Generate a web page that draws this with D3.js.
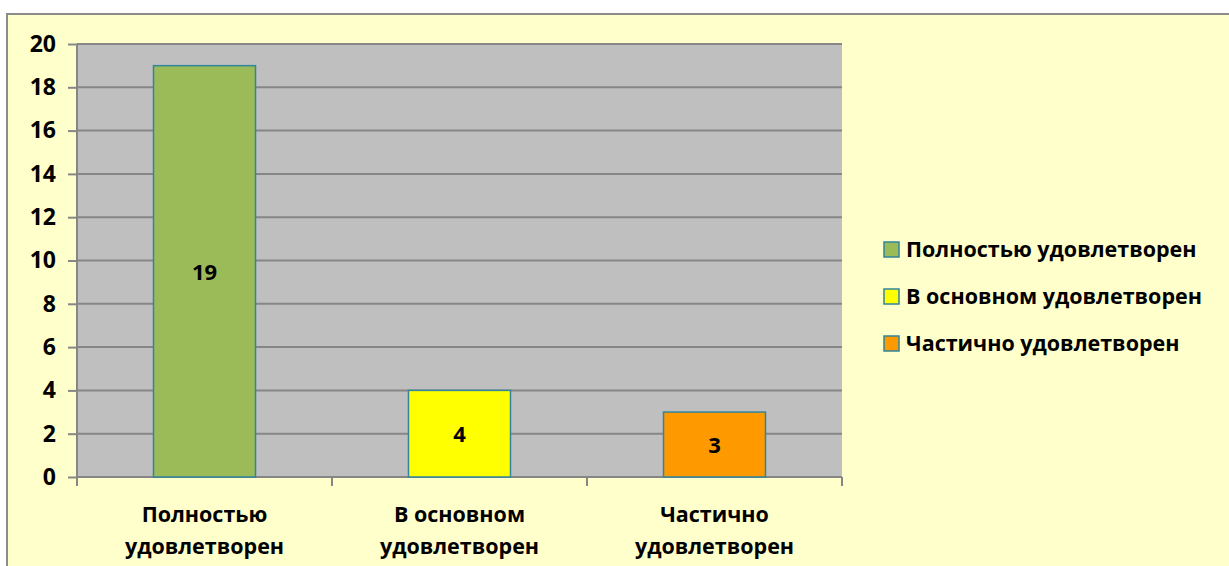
<!DOCTYPE html>
<meta charset="utf-8">
<style>
body { margin: 0; background: #fff; }
svg text { font-family: "Open Sans", "Noto Sans", sans-serif; font-weight: bold; fill: #000; }
.axis path { display: none; }
.axis line { stroke: #868686; stroke-width: 2; }
.axis text { font-size: 21.5px; font-family: "Open Sans", "Noto Sans", sans-serif; }
.axis.y text { font-size: 23px; }
.grid line { stroke: #868686; stroke-width: 2; }
.legend text { font-size: 21.5px; }
</style>
<svg width="1229" height="566"></svg>
<script src="https://d3js.org/d3.v7.min.js"></script>
<script>

var categories = ["Полностью удовлетворен", "В основном удовлетворен", "Частично удовлетворен"],
    axisLines = [["Полностью", "удовлетворен"], ["В основном", "удовлетворен"], ["Частично", "удовлетворен"]],
    values = [19, 4, 3],
    colors = ["#9BBB59", "#FFFF00", "#FF9900"],
    yTicks = [0, 2, 4, 6, 8, 10, 12, 14, 16, 18, 20];

var svg = d3.select("svg"),
    margin = {top: 44, left: 77},
    width = 842 - margin.left,
    height = 477 - margin.top;

// outer frame
svg.append("rect")
    .attr("x", 7).attr("y", 14)
    .attr("width", 1240).attr("height", 570)
    .attr("fill", "#FFFFCC")
    .attr("stroke", "#8C8C8C")
    .attr("stroke-width", 2);

var x = d3.scaleBand()
    .domain(categories)
    .range([0, width])
    .paddingInner(0.6)
    .paddingOuter(0.3);

var y = d3.scaleLinear()
    .domain([0, 20])
    .range([height, 0]);

var g = svg.append("g")
    .attr("transform", "translate(" + margin.left + "," + margin.top + ")");

g.append("rect")
    .attr("width", width)
    .attr("height", height)
    .attr("fill", "#BFBFBF");

g.append("g")
    .attr("class", "grid")
  .selectAll("line")
  .data(yTicks.slice(1))
  .enter().append("line")
    .attr("x1", 0).attr("x2", width)
    .attr("y1", function(d) { return y(d); })
    .attr("y2", function(d) { return y(d); });

g.append("line")
    .attr("x1", 0).attr("x2", 0)
    .attr("y1", 0).attr("y2", height)
    .attr("stroke", "#868686").attr("stroke-width", 2);

g.append("g")
    .attr("class", "axis y")
    .call(d3.axisLeft(y).tickValues(yTicks).tickSize(9).tickPadding(12));

// category axis: ticks at band boundaries
var xAxis = g.append("g")
    .attr("class", "axis")
    .attr("transform", "translate(0," + height + ")");

xAxis.append("line")
    .attr("x1", 0).attr("x2", width)
    .attr("stroke", "#868686").attr("stroke-width", 2);

xAxis.selectAll(".tk")
    .data(d3.range(categories.length + 1))
  .enter().append("line")
    .attr("x1", function(d) { return d * x.step(); })
    .attr("x2", function(d) { return d * x.step(); })
    .attr("y1", 0).attr("y2", 9);

var lab = xAxis.selectAll(".lab")
    .data(categories)
  .enter().append("text")
    .attr("text-anchor", "middle")
    .attr("x", function(d) { return x(d) + x.bandwidth() / 2; });

lab.selectAll("tspan")
    .data(function(d, i) { return axisLines[i]; })
  .enter().append("tspan")
    .attr("x", function() { return this.parentNode.getAttribute("x"); })
    .attr("y", function(d, i) { return 45 + i * 32; })
    .text(function(d) { return d; });

g.selectAll(".bar")
    .data(categories)
  .enter().append("rect")
    .attr("x", function(d) { return x(d); })
    .attr("y", function(d, i) { return y(values[i]); })
    .attr("width", x.bandwidth())
    .attr("height", function(d, i) { return height - y(values[i]); })
    .attr("fill", function(d, i) { return colors[i]; })
    .attr("stroke", "#31859C")
    .attr("stroke-width", 1.5);

g.selectAll(".val")
    .data(categories)
  .enter().append("text")
    .attr("text-anchor", "middle")
    .attr("font-size", 22)
    .attr("dy", "0.35em")
    .attr("x", function(d) { return x(d) + x.bandwidth() / 2; })
    .attr("y", function(d, i) { return (y(values[i]) + height) / 2 + 1; })
    .text(function(d, i) { return values[i]; });

var legend = svg.append("g")
    .attr("class", "legend")
    .attr("transform", "translate(884,249)")
  .selectAll("g")
    .data(categories)
  .enter().append("g")
    .attr("transform", function(d, i) { return "translate(0," + i * 47 + ")"; });

legend.append("rect")
    .attr("x", 0).attr("y", -7)
    .attr("width", 15).attr("height", 15)
    .attr("fill", function(d, i) { return colors[i]; })
    .attr("stroke", "#31859C")
    .attr("stroke-width", 1.5);

legend.append("text")
    .attr("x", 22)
    .attr("dy", "0.35em")
    .text(function(d) { return d; });

</script>
